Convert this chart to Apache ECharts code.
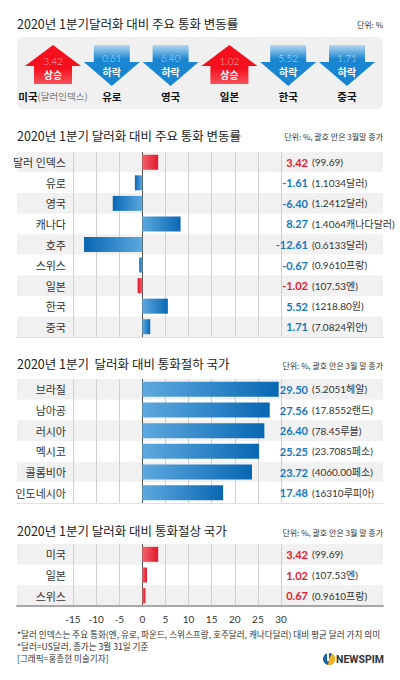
<!DOCTYPE html>
<html><head><meta charset="utf-8">
<script src="https://cdn.jsdelivr.net/npm/echarts@6/dist/echarts.min.js"></script>
<style>html,body{margin:0;padding:0;background:#fff}#c{width:400px;height:680px}</style>
</head><body><div id="c"></div><script>
// ---- top arrows ----
const topNames = ['미국', '유로', '영국', '일본', '한국', '중국'];
const topSubNames = ['(달러인덱스)', '', '', '', '', ''];
const topValues = [3.42, 0.61, 6.40, 1.02, 5.52, 1.71];
const topTrends = ['상승', '하락', '하락', '상승', '하락', '하락'];

// ---- chart 2: major currencies ----
const changeCategories = ['달러 인덱스', '유로', '영국', '캐나다', '호주', '스위스', '일본', '한국', '중국'];
const changeValues = [3.42, -1.61, -6.40, 8.27, -12.61, -0.67, -1.02, 5.52, 1.71];
const changeCloses = ['99.69', '1.1034달러', '1.2412달러', '1.4064캐나다달러', '0.6133달러', '0.9610프랑', '107.53엔', '1218.80원', '7.0824위안'];
const changeRedCategories = ['달러 인덱스', '일본'];

// ---- chart 3: depreciation ----
const depCategories = ['브라질', '남아공', '러시아', '멕시코', '콜롬비아', '인도네시아'];
const depValues = [29.50, 27.56, 26.40, 25.25, 23.72, 17.48];
const depCloses = ['5.2051헤알', '17.8552랜드', '78.45루블', '23.7085페소', '4060.00페소', '16310루피아'];

// ---- chart 4: appreciation ----
const appCategories = ['미국', '일본', '스위스'];
const appValues = [3.42, 1.02, 0.67];
const appCloses = ['99.69', '107.53엔', '0.9610프랑'];

// ---- axis ----
const xMin = -15, xMax = 30, xStep = 5;

const KR = '"Noto Sans CJK KR", sans-serif';
const NUM = 'Lato, "Noto Sans CJK KR", sans-serif';
const RED = '#e8192c', BLUE = '#1677c4';

function barGrad(v, red) {
  const light = red ? '#f3626c' : '#5ea9df';
  const dark = red ? '#e3172a' : '#0867b3';
  const stops = v >= 0
    ? [{offset: 0, color: light}, {offset: 1, color: dark}]
    : [{offset: 0, color: dark}, {offset: 1, color: light}];
  return {type: 'linear', x: 0, y: 0, x2: 1, y2: 0, colorStops: stops};
}

const grids = [], xAxes = [], yAxes = [], series = [];
const tickCount = Math.round((xMax - xMin) / xStep) + 1;
const splitColors = [];
for (let i = 0; i < tickCount; i++) splitColors.push(xMin + i * xStep === 0 ? '#555' : '#d0d0d0');

function panel(cats, vals, closes, isRed, top, height, bottomLine, showTicks) {
  const bgGrid = grids.length;
  grids.push({left: 17, right: 17, top: top, height: height, outerBoundsMode: 'none'});
  const mainGrid = grids.length;
  grids.push({left: 73, right: 119, top: top, height: height, outerBoundsMode: 'none'});
  xAxes.push({gridIndex: bgGrid, type: 'value', min: 0, max: 1,
    axisLabel: {show: false}, axisTick: {show: false}, splitLine: {show: false},
    axisLine: {show: true, lineStyle: bottomLine}});
  yAxes.push({gridIndex: bgGrid, type: 'category', data: cats, inverse: true,
    axisLabel: {show: false}, axisTick: {show: false}, axisLine: {show: false},
    splitLine: {show: false},
    splitArea: {show: true, areaStyle: {color: ['#f1f1f1', '#ffffff']}}});
  const mainX = xAxes.length;
  xAxes.push({gridIndex: mainGrid, type: 'value', min: xMin, max: xMax, interval: xStep,
    axisLine: {show: false}, axisTick: {show: false},
    axisLabel: {show: showTicks, fontSize: 10, color: '#333', margin: 8, fontFamily: NUM},
    splitLine: {show: true, lineStyle: {color: splitColors, width: 1}}});
  const catY = yAxes.length;
  yAxes.push({gridIndex: mainGrid, type: 'category', data: cats, inverse: true, position: 'left',
    axisLine: {show: false}, axisTick: {show: false}, splitLine: {show: false},
    axisLabel: {fontSize: 11, color: '#333', margin: 7, fontFamily: KR}});
  yAxes.push({gridIndex: mainGrid, type: 'category', data: cats, inverse: true, position: 'right',
    axisLine: {show: false}, axisTick: {show: false}, splitLine: {show: false},
    axisLabel: {margin: 27, align: 'right', fontSize: 11, fontWeight: 'bold', fontFamily: NUM,
      formatter: (v, i) => '{' + (isRed(i) ? 'r' : 'b') + '|' + vals[i].toFixed(2) + '}',
      rich: {r: {color: RED, fontSize: 11, fontWeight: 'bold', fontFamily: NUM},
             b: {color: BLUE, fontSize: 11, fontWeight: 'bold', fontFamily: NUM}}}});
  yAxes.push({gridIndex: mainGrid, type: 'category', data: cats, inverse: true, position: 'right',
    axisLine: {show: false}, axisTick: {show: false}, splitLine: {show: false},
    axisLabel: {margin: 31, align: 'left', fontSize: 10, color: '#333', fontFamily: NUM,
      formatter: (v, i) => '(' + closes[i] + ')'}});
  series.push({type: 'bar', xAxisIndex: mainX, yAxisIndex: catY, barWidth: 15, silent: true,
    data: vals.map((v, i) => ({value: v, itemStyle: {color: barGrad(v, isRed(i))}}))});
}

panel(changeCategories, changeValues, changeCloses,
  i => changeRedCategories.indexOf(changeCategories[i]) >= 0, 152, 185,
  {color: '#e0e0e0', width: 1}, false);
panel(depCategories, depValues, depCloses, i => false, 379, 124,
  {color: '#e0e0e0', width: 1}, false);
panel(appCategories, appValues, appCloses, i => true, 544, 62,
  {color: '#a8a8a8', width: 2}, true);

// ---- graphics: titles, notes, arrows ----
const g = [];
function txt(x, y, s, opt) {
  g.push({type: 'text', x: x, y: y, silent: true, z: 10,
    style: Object.assign({text: s, fill: '#222', font: '12.5px ' + KR, align: 'left', verticalAlign: 'middle'}, opt || {})});
}
txt(17, 23, '2020년 1분기달러화 대비 주요 통화 변동률');
txt(383, 24, '단위: %', {font: '8px ' + KR, fill: '#333', align: 'right'});
txt(17, 135, '2020년 1분기 달러화 대비 주요 통화 변동률');
txt(383, 136, '단위: %, 괄호 안은 3월말 종가', {font: '8px ' + KR, fill: '#333', align: 'right'});
txt(17, 363, '2020년 1분기  달러화 대비 통화절하 국가');
txt(383, 365, '단위: %, 괄호 안은 3월 말 종가', {font: '8px ' + KR, fill: '#333', align: 'right'});
txt(17, 530, '2020년 1분기 달러화 대비 통화절상 국가');
txt(383, 532, '단위: %, 괄호 안은 3월 말 종가', {font: '8px ' + KR, fill: '#333', align: 'right'});
txt(17, 634, '*달러 인덱스는 주요 통화(엔, 유로, 파운드, 스위스프랑, 호주달러, 캐나다달러) 대비 평균 달러 가치 의미', {font: '8.6px ' + KR, fill: '#333'});
txt(17, 646, '*달러=US달러, 종가는 3월 31일 기준', {font: '8.6px ' + KR, fill: '#333'});
txt(17, 658, '[그래픽=홍종현 미술기자]', {font: '8.6px ' + KR, fill: '#333'});

// panel background
g.push({type: 'rect', shape: {x: 17, y: 37, width: 366, height: 72, r: 6}, style: {fill: '#f0f0f0'}, silent: true, z: -1});

const arrowStart = 53, arrowStep = 58.8;
topNames.forEach((name, i) => {
  const cx = arrowStart + i * arrowStep;
  const up = topTrends[i] === '상승';
  if (up) {
    g.push({type: 'polygon', silent: true, z: 1,
      shape: {points: [[cx, 45], [cx + 28, 66], [cx + 19, 66], [cx + 19, 84], [cx - 19, 84], [cx - 19, 66], [cx - 28, 66]]},
      style: {fill: {type: 'linear', x: 0, y: 0, x2: 0, y2: 1, colorStops: [
        {offset: 0, color: '#f5101d'}, {offset: 0.6, color: '#f5101d'}, {offset: 1, color: '#f5505a'}]}}});
    txt(cx, 61, topValues[i].toFixed(2), {font: '300 10px ' + NUM, fill: '#ffb4b4', align: 'center'});
    txt(cx, 74.5, topTrends[i], {font: 'bold 10px ' + KR, fill: '#fff', align: 'center'});
  } else {
    g.push({type: 'polygon', silent: true, z: 1,
      shape: {points: [[cx - 18, 45], [cx + 18, 45], [cx + 18, 62], [cx + 28, 62], [cx, 86], [cx - 28, 62], [cx - 18, 62]]},
      style: {fill: {type: 'linear', x: 0, y: 0, x2: 0, y2: 1, colorStops: [
        {offset: 0, color: '#b4d8f2'}, {offset: 0.35, color: '#1a86d1'}, {offset: 1, color: '#1a86d1'}]}}});
    txt(cx, 58, topValues[i].toFixed(2), {font: '300 10px ' + NUM, fill: '#b8ddf7', align: 'center'});
    txt(cx, 71.5, topTrends[i], {font: 'bold 10px ' + KR, fill: '#fff', align: 'center'});
  }
  g.push({type: 'text', x: cx, y: 96, silent: true, z: 10, style: {
    text: '{n|' + name + '}' + (topSubNames[i] ? '{s|' + topSubNames[i] + '}' : ''),
    align: 'center', verticalAlign: 'middle',
    rich: {n: {fontSize: 10.5, fontWeight: 'bold', fill: '#111', fontFamily: KR},
           s: {fontSize: 9.5, fill: '#777', fontFamily: KR}}}});
});

// logo
g.push({type: 'circle', shape: {cx: 329, cy: 659, r: 6}, style: {fill: '#1b62ad'}, silent: true});
g.push({type: 'sector', shape: {cx: 329, cy: 659, r: 6, r0: 0, startAngle: -Math.PI / 3, endAngle: Math.PI * 0.55}, style: {fill: '#f6b21b'}, silent: true});
g.push({type: 'rect', shape: {x: 327, y: 653, width: 2, height: 8}, style: {fill: '#fff'}, silent: true});
txt(336, 659, 'NEWSPIM', {font: 'bold 10.5px Roboto, sans-serif', fill: '#333'});

const chart = echarts.init(document.getElementById('c'), null, {renderer: 'svg'});
chart.setOption({
  animation: false,
  grid: grids, xAxis: xAxes, yAxis: yAxes, series: series,
  graphic: g
});
</script></body></html>
